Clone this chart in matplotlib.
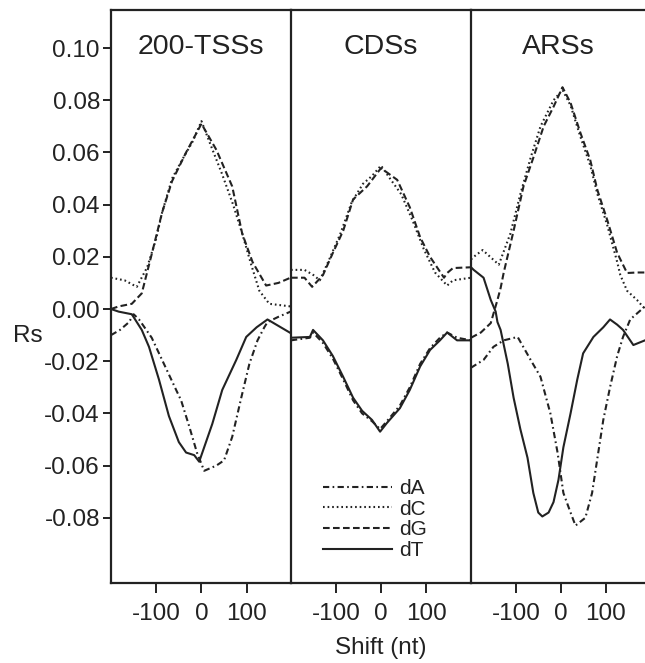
import matplotlib
matplotlib.use("Agg")
import matplotlib.pyplot as plt

plt.rcParams["font.family"] = ["Liberation Sans", "DejaVu Sans"]

panel_titles = ["200-TSSs", "CDSs", "ARSs"]
series_names = ["dA", "dC", "dG", "dT"]
x_ticks = [-100, 0, 100]
y_ticks = [-0.08, -0.06, -0.04, -0.02, 0.00, 0.02, 0.04, 0.06, 0.08, 0.10]

# 200-TSSs
tss_dA_x = [-200, -180, -160, -150, -138, -110, -56, -45, -27, -10, 6, 33, 50, 68, 88, 106, 124, 139, 146, 170, 197]
tss_dA_y = [-0.010, -0.008, -0.005, -0.002, -0.004, -0.011, -0.031, -0.035, -0.045, -0.055, -0.062, -0.060,
            -0.058, -0.049, -0.034, -0.021, -0.012, -0.007, -0.005, -0.003, -0.001]
tss_dC_x = [-200, -170, -143, -120, -100, -87, -65, -40, -20, 0, 20, 45, 70, 90, 110, 128, 150, 197]
tss_dC_y = [0.012, 0.011, 0.0085, 0.016, 0.027, 0.037, 0.050, 0.058, 0.064, 0.072, 0.063, 0.052, 0.040,
            0.029, 0.017, 0.007, 0.002, 0.001]
tss_dG_x = [-200, -183, -154, -132, -110, -87, -65, -34, 0, 33, 68, 90, 113, 143, 170, 197]
tss_dG_y = [0.0, 0.001, 0.002, 0.006, 0.021, 0.037, 0.049, 0.060, 0.071, 0.061, 0.047, 0.029, 0.018,
            0.009, 0.010, 0.012]
tss_dT_x = [-200, -183, -154, -132, -116, -94, -72, -50, -34, -16, -5, 6, 24, 46, 77, 99, 122, 146, 195]
tss_dT_y = [0.0, -0.001, -0.002, -0.008, -0.0145, -0.027, -0.041, -0.051, -0.055, -0.056, -0.0585, -0.053,
            -0.044, -0.031, -0.0195, -0.0107, -0.007, -0.004, -0.009]

# CDSs
cds_dA_x = [-200, -158, -151, -129, -107, -84, -62, -42, -20, -2, 13, 42, 64, 87, 109, 131, 147, 169, 200]
cds_dA_y = [-0.012, -0.011, -0.009, -0.013, -0.019, -0.027, -0.035, -0.040, -0.043, -0.046, -0.043, -0.037,
            -0.030, -0.021, -0.015, -0.011, -0.009, -0.011, -0.012]
cds_dC_x = [-200, -170, -150, -136, -115, -90, -65, -40, -20, 0, 20, 45, 70, 95, 120, 147, 160, 200]
cds_dC_y = [0.015, 0.015, 0.013, 0.011, 0.019, 0.029, 0.041, 0.048, 0.051, 0.055, 0.050, 0.044, 0.034,
            0.023, 0.014, 0.009, 0.011, 0.012]
cds_dG_x = [-200, -170, -153, -129, -107, -84, -62, -31, 0, 36, 64, 87, 109, 140, 147, 160, 200]
cds_dG_y = [0.012, 0.012, 0.0085, 0.013, 0.0215, 0.030, 0.042, 0.047, 0.054, 0.0495, 0.039, 0.0275,
            0.020, 0.012, 0.0138, 0.0157, 0.016]
cds_dT_x = [-200, -158, -151, -129, -107, -84, -62, -42, -20, -2, 13, 42, 64, 87, 109, 131, 147, 169, 200]
cds_dT_y = [-0.011, -0.0107, -0.008, -0.012, -0.018, -0.026, -0.034, -0.039, -0.0425, -0.047, -0.0437,
            -0.038, -0.031, -0.022, -0.0157, -0.012, -0.009, -0.012, -0.012]

# ARSs
ars_dA_x = [-200, -172, -150, -127, -96, -67, -45, -23, -7, 6, 22, 33, 55, 70, 82, 95, 110, 126, 139, 155, 188]
ars_dA_y = [-0.0225, -0.0195, -0.0145, -0.012, -0.0107, -0.0195, -0.026, -0.040, -0.055, -0.0705, -0.078,
            -0.083, -0.080, -0.0705, -0.057, -0.0425, -0.030, -0.018, -0.0107, -0.004, 0.001]
ars_dC_x = [-200, -194, -174, -138, -112, -90, -67, -45, -16, 4, 22, 44, 66, 82, 104, 126, 133, 148, 170, 188]
ars_dC_y = [0.019, 0.020, 0.0226, 0.017, 0.029, 0.044, 0.058, 0.070, 0.080, 0.084, 0.078, 0.066, 0.055,
            0.044, 0.032, 0.018, 0.013, 0.007, 0.0035, 0.0]
ars_dG_x = [-200, -178, -156, -141, -134, -127, -105, -83, -61, -38, -16, 4, 22, 44, 66, 82, 104, 126, 148, 170, 188]
ars_dG_y = [-0.011, -0.009, -0.0054, 0.0035, 0.008, 0.014, 0.030, 0.047, 0.058, 0.070, 0.0775, 0.085,
            0.079, 0.0675, 0.057, 0.0455, 0.034, 0.0215, 0.0138, 0.014, 0.014]
ars_dT_x = [-200, -194, -172, -156, -145, -141, -134, -118, -105, -90, -74, -61, -50, -41, -27, -16, -5, 6,
            22, 37, 50, 73, 95, 110, 126, 139, 162, 188]
ars_dT_y = [0.016, 0.015, 0.012, 0.0035, -0.001, -0.005, -0.008, -0.021, -0.034, -0.046, -0.057, -0.0705,
            -0.078, -0.0795, -0.078, -0.074, -0.0655, -0.053, -0.040, -0.027, -0.017, -0.0107, -0.007,
            -0.004, -0.006, -0.008, -0.0138, -0.012]

panels = [
    [(tss_dA_x, tss_dA_y), (tss_dC_x, tss_dC_y), (tss_dG_x, tss_dG_y), (tss_dT_x, tss_dT_y)],
    [(cds_dA_x, cds_dA_y), (cds_dC_x, cds_dC_y), (cds_dG_x, cds_dG_y), (cds_dT_x, cds_dT_y)],
    [(ars_dA_x, ars_dA_y), (ars_dC_x, ars_dC_y), (ars_dG_x, ars_dG_y), (ars_dT_x, ars_dT_y)],
]
styles = [(0, (3, 1.6, 0.8, 1.6)), (0, (0.8, 1.4)), (0, (3.2, 1.6)), "-"]
xlims = [(-200, 198), (-200, 200), (-200, 188)]

W, H = 645, 663
fig = plt.figure(figsize=(W / 100, H / 100), dpi=100)
edges = [111, 291, 471, 645]
top, bottom = 10, 583
col = "#222222"

axes = []
for i in range(3):
    ax = fig.add_axes([edges[i] / W, 1 - bottom / H, (edges[i + 1] - edges[i]) / W, (bottom - top) / H])
    ax.patch.set_visible(False)
    for (xs, ys), ls, name in zip(panels[i], styles, series_names):
        ax.plot(xs, ys, color=col, lw=1.5, linestyle=ls, label=name)
    ax.set_xlim(*xlims[i])
    ax.set_ylim(-0.105, 0.1146)
    ax.set_xticks(x_ticks)
    ax.set_xticklabels(["-100", "0", "100"])
    ax.tick_params(axis="x", direction="out", length=7.2, width=1.4, color=col, labelsize=17.5, pad=7,
                   labelcolor=col)
    for s in ax.spines.values():
        s.set_color(col)
        s.set_linewidth(1.6)
    if i == 0:
        ax.set_yticks(y_ticks)
        ax.set_yticklabels(["%.2f" % v for v in y_ticks])
        ax.tick_params(axis="y", direction="out", length=6, width=1.4, color=col, labelsize=17.5,
                       labelcolor=col, pad=2)
    else:
        ax.set_yticks([])
        ax.spines["left"].set_visible(False)
    if i == 2:
        ax.spines["right"].set_visible(False)
    ax.text(0.5, 0.935, panel_titles[i], transform=ax.transAxes, ha="center", va="center",
            fontsize=20.5, color=col)
    axes.append(ax)

axes[1].legend(loc="upper left", bbox_to_anchor=(323 / W, 1 - 479 / H), bbox_transform=fig.transFigure,
               frameon=False, fontsize=15, handlelength=3.3, labelspacing=0.08, handletextpad=0.35,
               borderpad=0, borderaxespad=0, labelcolor=col)

fig.text(28 / W, 1 - 336 / H, "Rs", ha="center", va="center", fontsize=17.5, color=col)
fig.text(381 / W, 1 - 648 / H, "Shift (nt)", ha="center", va="center", fontsize=17.5, color=col)

fig.savefig("out.png", dpi=100)
